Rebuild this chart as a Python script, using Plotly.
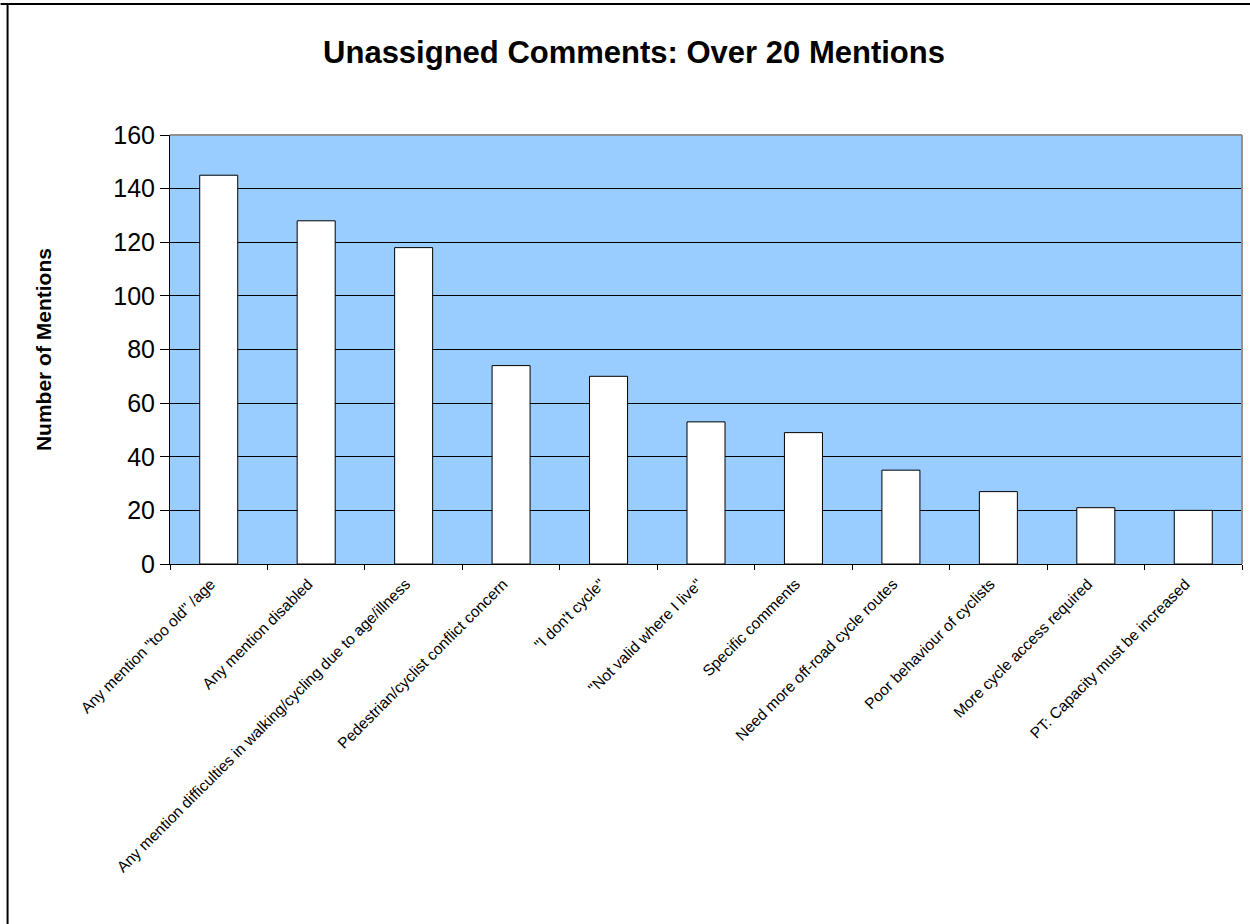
import plotly.graph_objects as go

categories = [
    'Any mention "too old" /age',
    'Any mention disabled',
    'Any mention difficulties in walking/cycling due to age/illness',
    'Pedestrian/cyclist conflict concern',
    '"I don\'t cycle"',
    '"Not valid where I live"',
    'Specific comments',
    'Need more off-road cycle routes',
    'Poor behaviour of cyclists',
    'More cycle access required',
    'PT: Capacity must be increased',
]
values = [145, 128, 118, 74, 70, 53, 49, 35, 27, 21, 20]
y_ticks = [0, 20, 40, 60, 80, 100, 120, 140, 160]

W, H = 1250, 924
L, R, T, B = 169.5, 8, 135, 360
pw, ph = W - L - R, H - T - B

fig = go.Figure(go.Bar(
    x=categories, y=values,
    marker=dict(color="white", line=dict(color="black", width=1)),
    width=0.39, hoverinfo="skip",
))

font = "Liberation Sans, Arial, sans-serif"
fig.update_layout(
    width=W, height=H,
    margin=dict(l=L, r=R, t=T, b=B, autoexpand=False),
    paper_bgcolor="white", plot_bgcolor="#99CCFF",
    showlegend=False,
    font=dict(family=font, color="black"),
    title=dict(text="<b>Unassigned Comments: Over 20 Mentions</b>",
               x=634 / W, xanchor="center", xref="container",
               y=1 - 52 / H, yanchor="middle", yref="container",
               font=dict(size=31, family=font, color="black")),
)
fig.update_xaxes(
    type="category", tickangle=-45, tickfont=dict(size=15.5, family=font),
    showline=True, linecolor="black", linewidth=1,
    ticks="outside", ticklen=5, tickcolor="black", tickson="boundaries",
    ticklabelshift=-8, ticklabelstandoff=4,
    showgrid=False, range=[-0.5, 10.5],
)
fig.update_yaxes(
    range=[0, 160], tickvals=y_ticks, tickfont=dict(size=25, family=font),
    showline=True, linecolor="black", linewidth=1,
    ticks="outside", ticklen=9, tickcolor="black",
    showgrid=True, gridcolor="black", gridwidth=1, zeroline=False,
)
fig.add_annotation(text="<b>Number of Mentions</b>", xref="paper", yref="paper",
                   x=(43 - L) / pw, y=0.5, xanchor="center", yanchor="middle",
                   textangle=-90, showarrow=False,
                   font=dict(size=21, family=font, color="black"))
# gray plot-area border (top and right)
fig.add_shape(type="line", xref="paper", yref="paper", x0=0, x1=1, y0=1, y1=1,
              line=dict(color="#909090", width=2), layer="above")
fig.add_shape(type="line", xref="paper", yref="paper", x0=1, x1=1, y0=0, y1=1,
              line=dict(color="#909090", width=2), layer="above")
# outer chart border (top and left)
fig.add_shape(type="line", xref="paper", yref="paper",
              x0=(0 - L) / pw, x1=(W - L) / pw, y0=(H - 4 - B) / ph, y1=(H - 4 - B) / ph,
              line=dict(color="black", width=2), layer="above")
fig.add_shape(type="line", xref="paper", yref="paper",
              x0=(7 - L) / pw, x1=(7 - L) / pw, y0=(0 - B) / ph, y1=(H - 4 - B) / ph,
              line=dict(color="black", width=2), layer="above")

fig.write_html("out.html", config={"displayModeBar": False},
               post_script="document.body.style.margin='0';document.body.style.overflow='hidden';")
